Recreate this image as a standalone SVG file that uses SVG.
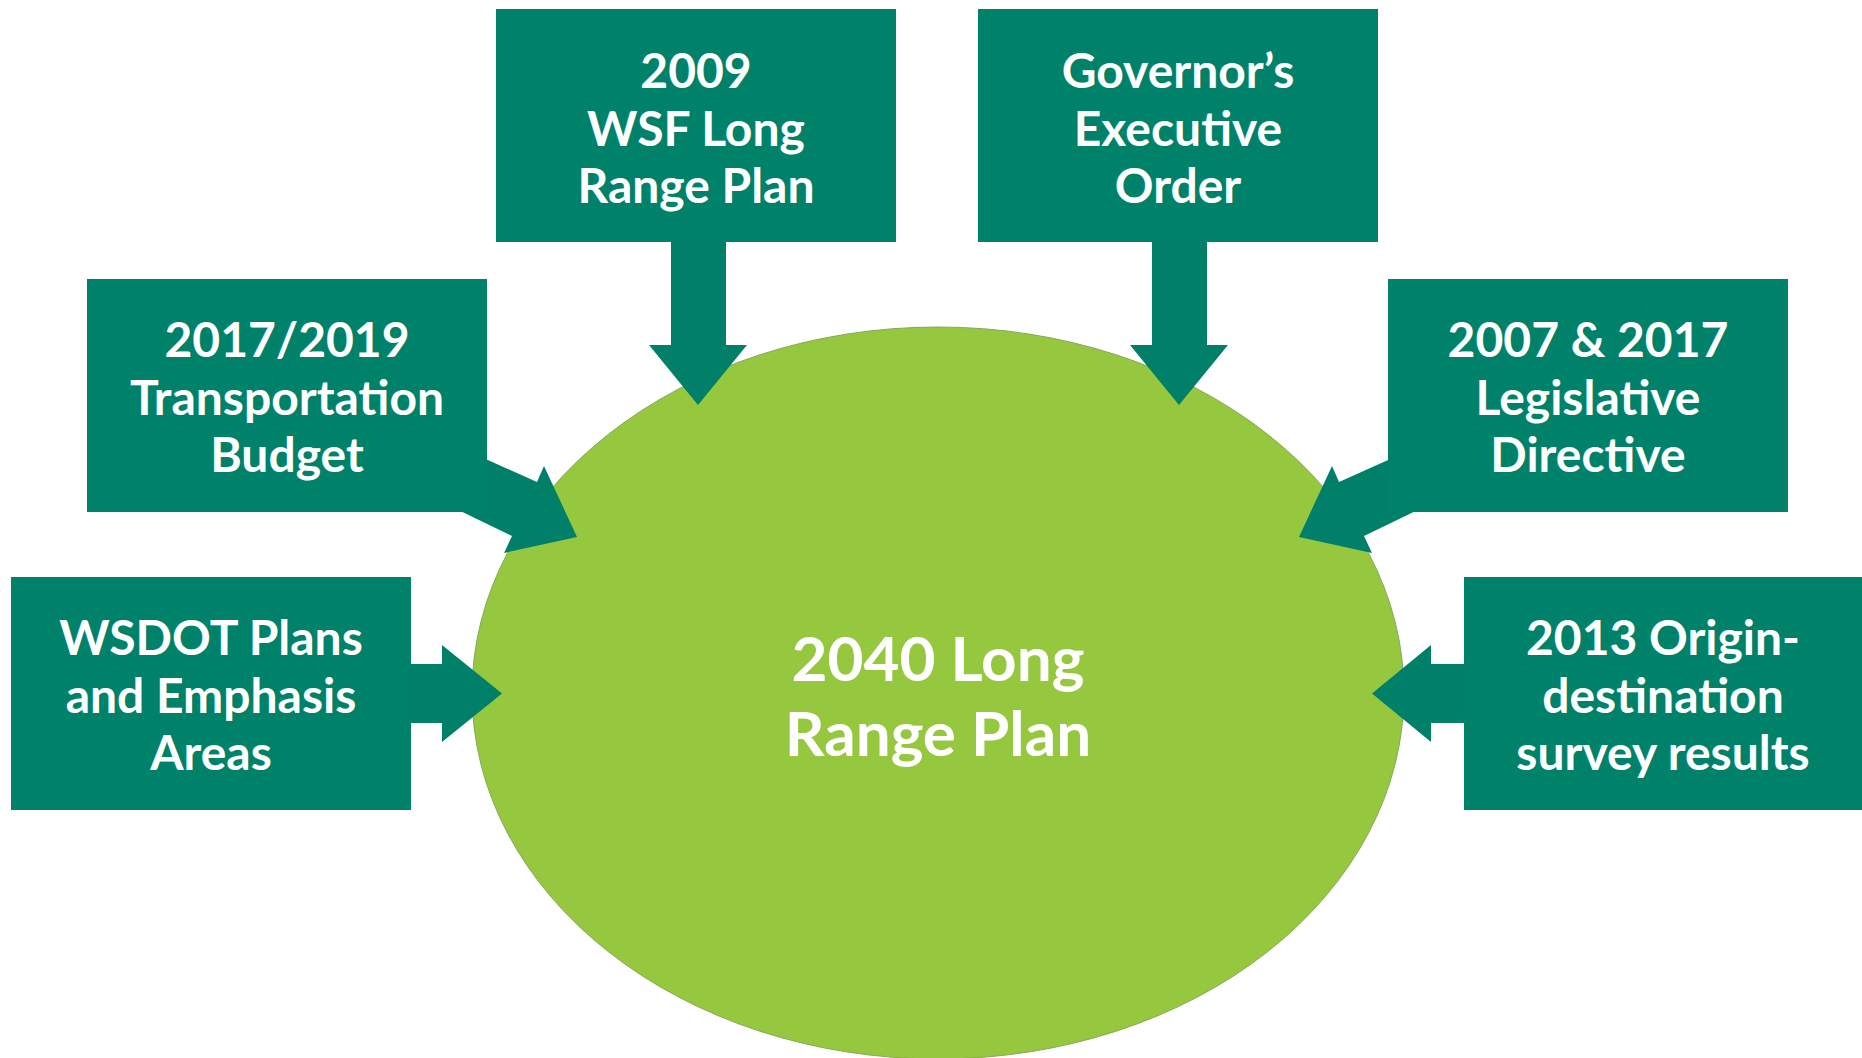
<svg xmlns="http://www.w3.org/2000/svg" width="1862" height="1058" viewBox="0 0 1862 1058">
  <style>
    .box { fill: #00826A; }
    .arrow { fill: #007F69; }
    .lbl { font-family: Lato, "Open Sans", "Liberation Sans", sans-serif; font-weight: 700; font-size: 48px; fill: #FFFFFF; text-anchor: middle; }
    .center { font-family: Lato, "Open Sans", "Liberation Sans", sans-serif; font-weight: 700; font-size: 62px; fill: #FFFFFF; text-anchor: middle; }
  </style>
  <rect x="0" y="0" width="1862" height="1058" fill="#FFFFFF"/>

  <g id="node-2040">
    <ellipse cx="938" cy="693" rx="466" ry="366" fill="#95C83E" stroke="#86A85A" stroke-width="1"/>
    <text class="center" x="938" y="681">2040 Long</text>
    <text class="center" x="938" y="756">Range Plan</text>
  </g>

  <g id="connectors">
    <polygon class="arrow" points="671,230 726,230 726,345 747,345 698,405 649,345 671,345"/>
    <polygon class="arrow" points="1152,230 1207,230 1207,345 1228,345 1179,405 1130,345 1152,345"/>
    <polygon class="arrow" points="470,452 537,482 544,466 577,537 504,553 512,536 450,506"/>
    <polygon class="arrow" points="1406,452 1339,482 1332,466 1299,537 1372,553 1364,536 1426,506"/>
    <polygon class="arrow" points="400,664 442,664 442,645 502,693.5 442,742 442,723 400,723"/>
    <polygon class="arrow" points="1475,664 1431,664 1431,645 1372,693.5 1431,742 1431,723 1475,723"/>
  </g>

  <g id="node-wsf">
    <rect class="box" x="496" y="9" width="400" height="233"/>
    <text class="lbl" x="696" y="88">2009</text>
    <text class="lbl" x="696" y="146">WSF Long</text>
    <text class="lbl" x="696" y="203">Range Plan</text>
  </g>

  <g id="node-governor">
    <rect class="box" x="978" y="9" width="400" height="233"/>
    <text class="lbl" x="1178" y="88">Governor’s</text>
    <text class="lbl" x="1178" y="146">Executive</text>
    <text class="lbl" x="1178" y="203">Order</text>
  </g>

  <g id="node-budget">
    <rect class="box" x="87" y="279" width="400" height="233"/>
    <text class="lbl" x="287" y="357">2017/2019</text>
    <text class="lbl" x="287" y="415">Transportation</text>
    <text class="lbl" x="287" y="472">Budget</text>
  </g>

  <g id="node-legislative">
    <rect class="box" x="1388" y="279" width="400" height="233"/>
    <text class="lbl" x="1588" y="357">2007 &amp; 2017</text>
    <text class="lbl" x="1588" y="415">Legislative</text>
    <text class="lbl" x="1588" y="472">Directive</text>
  </g>

  <g id="node-wsdot">
    <rect class="box" x="11" y="577" width="400" height="233"/>
    <text class="lbl" x="211" y="655">WSDOT Plans</text>
    <text class="lbl" x="211" y="713">and Emphasis</text>
    <text class="lbl" x="211" y="770">Areas</text>
  </g>

  <g id="node-survey">
    <rect class="box" x="1464" y="577" width="398" height="233"/>
    <text class="lbl" x="1663" y="655">2013 Origin-</text>
    <text class="lbl" x="1663" y="713">destination</text>
    <text class="lbl" x="1663" y="770">survey results</text>
  </g>
</svg>
